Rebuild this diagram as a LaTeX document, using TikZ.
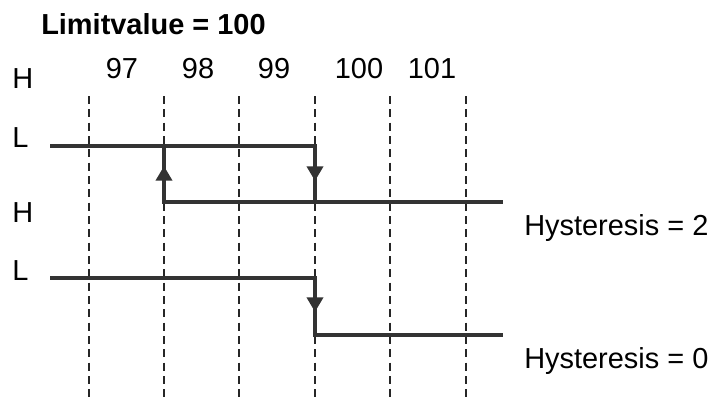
\documentclass[tikz,border=0pt]{standalone}
\usepackage{fontspec}
\setmainfont{Liberation Sans}
\usetikzlibrary{arrows.meta}

\begin{document}
\begin{tikzpicture}[
    x=0.75pt, y=-0.75pt,
    signal/.style={line width=3pt, draw=black!80},
    grid/.style={dash pattern=on 6pt off 4pt, line width=1.1pt, draw=black!85},
    tip/.style={-{Triangle[width=12pt,length=11pt]}, line width=3pt, draw=black!80, fill=black!80},
    lbl/.style={font=\fontsize{21.7}{26}\selectfont, inner sep=0pt, anchor=base west},
    num/.style={font=\fontsize{21.7}{26}\selectfont, inner sep=0pt, anchor=base}
]
\useasboundingbox (0,0) rectangle (712,401);

% Title
\node[lbl, font=\fontsize{21.7}{26}\selectfont\bfseries] (title) at (41,34) {Limitvalue = 100};

% Level labels
\node[lbl] (hA) at (12,88) {H};
\node[lbl] (lA) at (12,147) {L};
\node[lbl] (hB) at (12,222) {H};
\node[lbl] (lB) at (12,280) {L};

% Input values
\node[num] (v97) at (122,78) {97};
\node[num] (v98) at (198,78) {98};
\node[num] (v99) at (274,78) {99};
\node[num] (v100) at (359,78) {100};
\node[num] (v101) at (432,78) {101};

% Grid
\foreach \x in {89,164,239,315,390,466}
    \draw[grid] (\x,96) -- (\x,399);

% Hysteresis = 2
\coordinate (twoStart) at (50,146);
\coordinate (twoFall) at (315,146);
\coordinate (twoLow) at (315,202);
\coordinate (twoEnd) at (503,202);
\coordinate (twoRise) at (164,202);
\coordinate (twoTop) at (164,146);
\draw[signal] (twoStart) -- (twoFall) -- (twoLow) -- (twoEnd);
\draw[signal] (twoTop) -- (twoRise) -- (twoLow);
\draw[tip] (315,167) -- (315,181);
\draw[tip] (164,181) -- (164,166);
\node[lbl] (hystTwo) at (524,235) {Hysteresis = 2};

% Hysteresis = 0
\coordinate (zeroStart) at (50,278);
\coordinate (zeroFall) at (315,278);
\coordinate (zeroLow) at (315,335);
\coordinate (zeroEnd) at (503,335);
\draw[signal] (zeroStart) -- (zeroFall) -- (zeroLow) -- (zeroEnd);
\draw[tip] (315,298) -- (315,312);
\node[lbl] (hystZero) at (524,368) {Hysteresis = 0};

\end{tikzpicture}
\end{document}
